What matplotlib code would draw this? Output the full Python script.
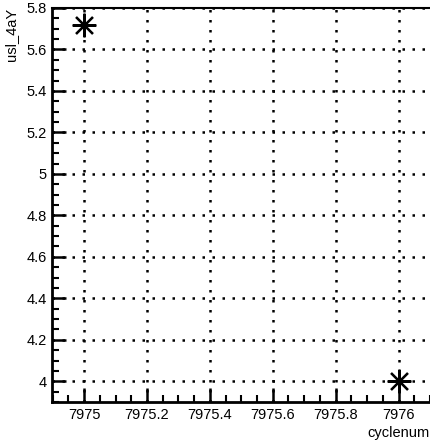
import numpy as np
import matplotlib.pyplot as plt
from matplotlib.ticker import MultipleLocator

# data
cyclenum = [7975, 7976]
usl_4aY = [5.72, 4.0]

plt.rcParams['font.family'] = ['Liberation Sans', 'DejaVu Sans']

fig = plt.figure(figsize=(4.31, 4.40), dpi=100)
ax = fig.add_axes([52/431, 38/440, 378/431, 394/440])

# asterisk markers like ROOT marker style 3
ax.plot(cyclenum, usl_4aY, linestyle='none', marker=(8, 2, 0),
        markersize=17, markeredgewidth=1.6, color='black')

ax.set_xlim(7974.898, 7976.1)
ax.set_ylim(3.9, 5.8)

ax.xaxis.set_major_locator(MultipleLocator(0.2))
ax.xaxis.set_minor_locator(MultipleLocator(0.05))
ax.yaxis.set_major_locator(MultipleLocator(0.2))
ax.yaxis.set_minor_locator(MultipleLocator(0.05))
ax.xaxis.set_major_formatter(plt.FuncFormatter(lambda v, p: ('%.1f' % v).rstrip('0').rstrip('.')))
ax.yaxis.set_major_formatter(plt.FuncFormatter(lambda v, p: ('%.1f' % v).rstrip('0').rstrip('.')))

ax.tick_params(which='major', direction='in', length=10, width=1.8, labelsize=10.5,
               top=False, right=False, pad=4)
ax.tick_params(which='minor', direction='in', length=5, width=1.5, top=False, right=False)

ax.grid(True, which='major', color='black', linestyle=(0, (1, 3)), linewidth=1.8)

ax.spines['left'].set_linewidth(2)
ax.spines['bottom'].set_linewidth(2)
ax.spines['top'].set_linewidth(1.5)
ax.spines['right'].set_visible(False)

ax.set_xlabel('cyclenum', fontsize=10.5, loc='right', labelpad=3)
ax.set_ylabel('usl_4aY', fontsize=10.5, loc='top', labelpad=6)

fig.savefig('out.png', dpi=100)
